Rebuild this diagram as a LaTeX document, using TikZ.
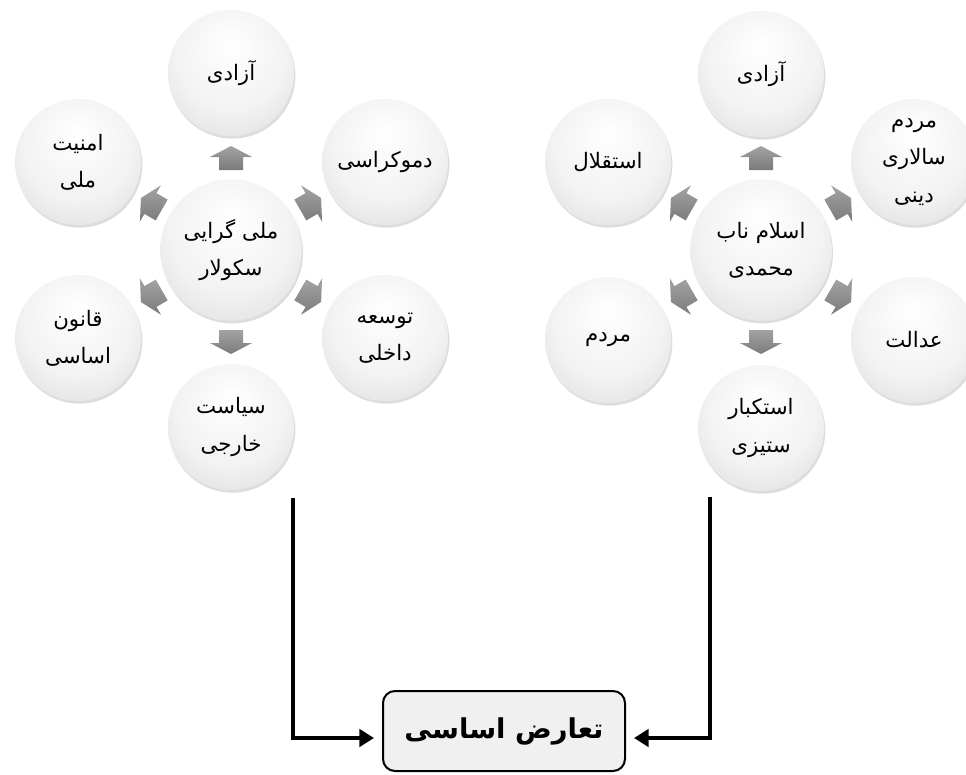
\documentclass[tikz,border=0pt]{standalone}
\usepackage{fontspec}
\TeXXeTstate=1
\newfontfamily\arabicfont[Script=Arabic]{DejaVu Sans}
\usetikzlibrary{arrows.meta,shadows}
\newcommand{\fatx}[1]{\beginR #1\endR}
\pgfdeclareradialshading{ballsh}{\pgfpoint{0bp}{12bp}}{color(0bp)=(white); color(22bp)=(black!5); color(50bp)=(black!21)}
\tikzset{
  circ/.style={circle, shading=ballsh, minimum size=94.5pt, inner sep=0pt, align=center,
    font=\arabicfont\fontsize{16}{28}\selectfont,
    drop shadow={shadow xshift=1pt, shadow yshift=-2pt, opacity=0.22, fill=black!60}},
  hub/.style={circ, minimum size=106pt},
  barrow/.pic={\path[top color=black!36, bottom color=black!52]
     (-12,-12) -- (1,-12) -- (1,-21) -- (12,0) -- (1,21) -- (1,12) -- (-12,12) -- cycle;},
  boxst/.style={draw, line width=1.5pt, rounded corners=9pt, fill=black!6,
    minimum width=181.5pt, minimum height=60pt, inner sep=0pt,
    font=\arabicfont\bfseries\fontsize{20.5}{26}\selectfont},
  conn/.style={line width=3.4pt, -{Triangle[length=11pt,width=13pt]}, shorten >=6pt, line join=miter}
}
\begin{document}
\begin{tikzpicture}[x=0.75pt, y=-0.75pt]
\useasboundingbox (0,0) rectangle (966,774);
% left cluster
\node[hub] (lc) at (231,250) {\fatx{ملی گرایی}\\\fatx{سکولار}};
\node[circ] (lt) at (231,73) {\fatx{آزادی}};
\node[circ] (lul) at (78,162) {\fatx{امنیت}\\\fatx{ملی}};
\node[circ] (lur) at (385,162) {\fatx{دموکراسی}};
\node[circ] (lll) at (78,338) {\fatx{قانون}\\\fatx{اساسی}};
\node[circ] (llr) at (385,338) {\fatx{توسعه}\\\fatx{داخلی}};
\node[circ] (lb) at (231,427) {\fatx{سیاست}\\\fatx{خارجی}};
\pic[rotate=90] at (231,158) {barrow};
\pic[rotate=30] at (310.7,204) {barrow};
\pic[rotate=150] at (151.3,204) {barrow};
\pic[rotate=210] at (151.3,296) {barrow};
\pic[rotate=270] at (231,342) {barrow};
\pic[rotate=330] at (310.7,296) {barrow};
% right cluster
\node[hub] (rc) at (761,250) {\fatx{اسلام ناب}\\\fatx{محمدی}};
\node[circ] (rt) at (761,74) {\fatx{آزادی}};
\node[circ] (rul) at (608,162) {\fatx{استقلال}};
\node[circ] (rur) at (914,162) {\fatx{مردم}\\\fatx{سالاری}\\\fatx{دینی}};
\node[circ] (rll) at (608,340) {\fatx{مردم}};
\node[circ] (rlr) at (914,340) {\fatx{عدالت}};
\node[circ] (rb) at (761,428) {\fatx{استکبار}\\\fatx{ستیزی}};
\pic[rotate=90] at (761,158) {barrow};
\pic[rotate=30] at (840.7,204) {barrow};
\pic[rotate=150] at (681.3,204) {barrow};
\pic[rotate=210] at (681.3,296) {barrow};
\pic[rotate=270] at (761,342) {barrow};
\pic[rotate=330] at (840.7,296) {barrow};
% bottom box
\node[boxst] (box) at (504,731) {\fatx{تعارض اساسی}};
\coordinate (ls) at (293,498);
\coordinate (rs) at (710,497);
\draw[conn] (ls) |- ([yshift=-5.25pt]box.west);
\draw[conn] (rs) |- ([yshift=-5.25pt]box.east);
\end{tikzpicture}
\end{document}
